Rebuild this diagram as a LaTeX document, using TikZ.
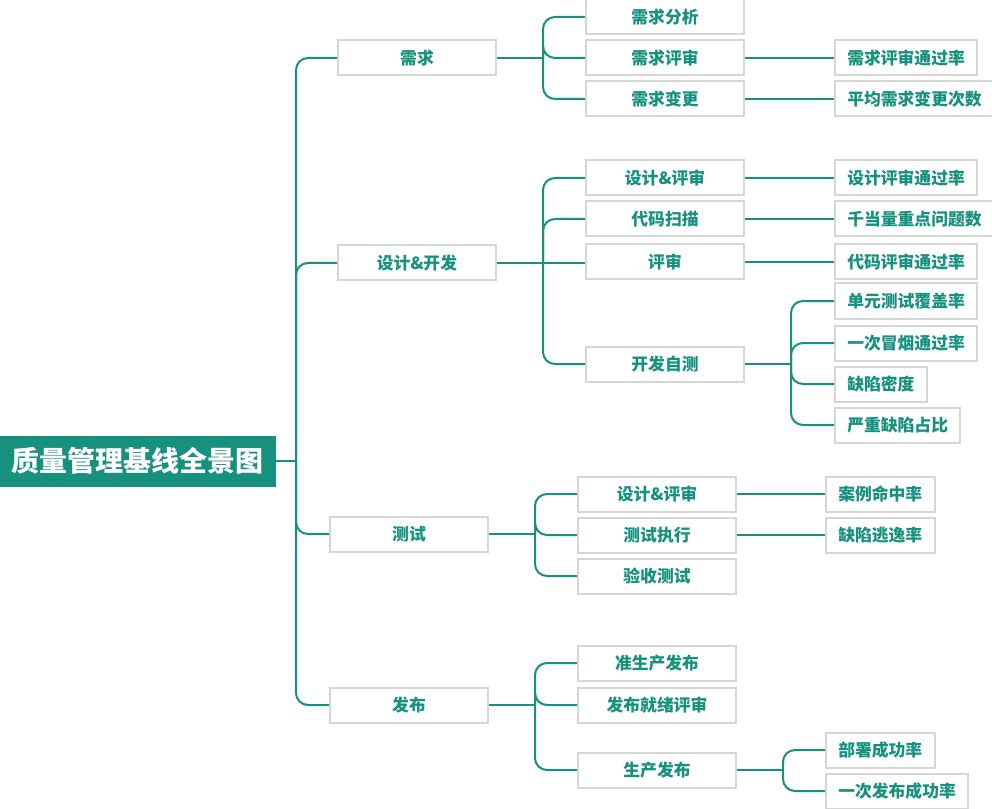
\documentclass[tikz,border=0pt]{standalone}
\usepackage{fontspec}
\setmainfont{Noto Sans CJK SC}
\usepackage{tikz}
\definecolor{teal1}{RGB}{22,145,127}
\definecolor{rim}{RGB}{214,214,214}

\begin{document}
\begin{tikzpicture}[x=0.75pt,y=-0.75pt]
\tikzset{root/.style={fill=teal1,text=white,minimum width=207pt,minimum height=38.25pt,inner sep=0pt,font=\fontsize{21}{24}\selectfont\bfseries},
         bx/.style={draw=rim,line width=1.5pt,fill=white,text=teal1,minimum width=118.5pt,minimum height=26.25pt,inner sep=0pt,font=\fontsize{12.6}{14}\selectfont\bfseries},
         leaf/.style={bx,anchor=west,minimum width=0pt,inner xsep=9.2pt},
         ln/.style={draw=teal1,line width=1.5pt,rounded corners=9pt}}
\useasboundingbox (0,0) rectangle (992,809);
% root and first level
\node[root] (top) at (138,461) {质量管理基线全景图};
\node[bx] (req) at (417,58) {需求};
\node[bx] (dev) at (417,263) {设计\&开发};
\node[bx] (tst) at (409,534) {测试};
\node[bx] (rel) at (409,705) {发布};
% second level
\node[bx] (req1) at (665,17) {需求分析};
\node[bx] (req2) at (665,58) {需求评审};
\node[bx] (req3) at (665,99) {需求变更};
\node[bx] (dev1) at (665,178) {设计\&评审};
\node[bx] (dev2) at (665,219) {代码扫描};
\node[bx] (dev3) at (665,262) {评审};
\node[bx] (dev4) at (665,364) {开发自测};
\node[bx] (tst1) at (657,494) {设计\&评审};
\node[bx] (tst2) at (657,535) {测试执行};
\node[bx] (tst3) at (657,576) {验收测试};
\node[bx] (rel1) at (657,663) {准生产发布};
\node[bx] (rel2) at (657,705) {发布就绪评审};
\node[bx] (rel3) at (657,770) {生产发布};
% third level
\node[leaf] (m1) at (834,58) {需求评审通过率};
\node[leaf] (m2) at (834,99) {平均需求变更次数};
\node[leaf] (m3) at (834,178) {设计评审通过率};
\node[leaf] (m4) at (834,219) {千当量重点问题数};
\node[leaf] (m5) at (834,262) {代码评审通过率};
\node[leaf] (m6) at (834,301) {单元测试覆盖率};
\node[leaf] (m7) at (834,343) {一次冒烟通过率};
\node[leaf] (m8) at (834,384) {缺陷密度};
\node[leaf] (m9) at (834,425) {严重缺陷占比};
\node[leaf] (m10) at (825,494) {案例命中率};
\node[leaf] (m11) at (825,535) {缺陷逃逸率};
\node[leaf] (m12) at (825,750) {部署成功率};
\node[leaf] (m13) at (825,791) {一次发布成功率};
% connectors
\draw[ln] (top.east) -- (296,461) coordinate (j0);
\foreach \c in {req,dev,tst,rel} \draw[ln] (j0) |- (\c.west);
\draw[ln] (req.east) -- (543,58) coordinate (j1);
\foreach \c in {req1,req2,req3} \draw[ln] (j1) |- (\c.west);
\draw[ln] (dev.east) -- (543,263) coordinate (j2);
\foreach \c in {dev1,dev2,dev4} \draw[ln] (j2) |- (\c.west);
\draw[ln] (j2) -- (j2 -| dev3.west);
\draw[ln] (tst.east) -- (535,534) coordinate (j3);
\foreach \c in {tst1,tst2,tst3} \draw[ln] (j3) |- (\c.west);
\draw[ln] (rel.east) -- (535,705) coordinate (j4);
\foreach \c in {rel1,rel2,rel3} \draw[ln] (j4) |- (\c.west);
\draw[ln] (dev4.east) -- (791,364) coordinate (j5);
\foreach \c in {m6,m7,m8,m9} \draw[ln] (j5) |- (\c.west);
\draw[ln] (rel3.east) -- (783,770) coordinate (j6);
\foreach \c in {m12,m13} \draw[ln] (j6) |- (\c.west);
\draw[ln] (req2.east) -- (m1.west);
\draw[ln] (req3.east) -- (m2.west);
\draw[ln] (dev1.east) -- (m3.west);
\draw[ln] (dev2.east) -- (m4.west);
\draw[ln] (dev3.east) -- (m5.west);
\draw[ln] (tst1.east) -- (m10.west);
\draw[ln] (tst2.east) -- (m11.west);
\end{tikzpicture}
\end{document}
